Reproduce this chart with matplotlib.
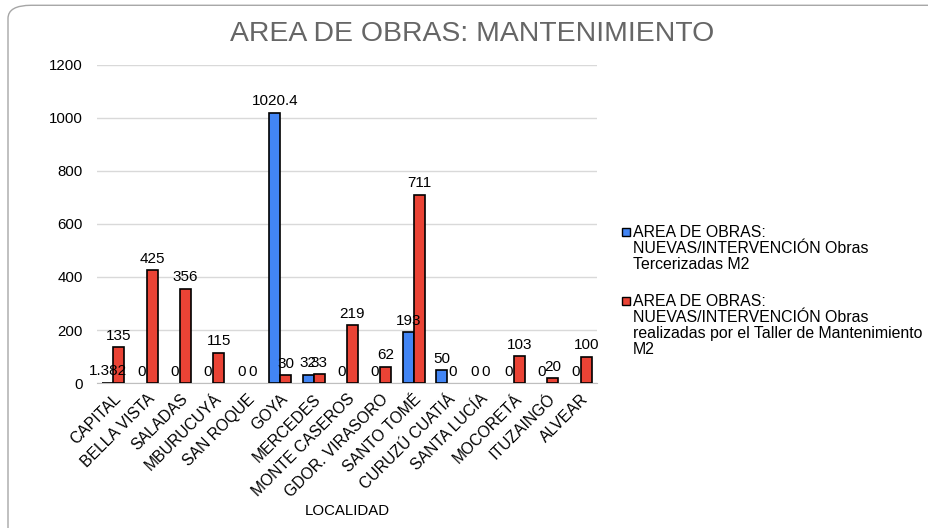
import matplotlib
matplotlib.use("Agg")
import matplotlib.pyplot as plt
import numpy as np
from matplotlib.patches import FancyBboxPatch, Rectangle

plt.rcParams['font.family'] = ['Liberation Sans', 'DejaVu Sans']

categories = ["CAPITAL", "BELLA VISTA", "SALADAS", "MBURUCUYÁ", "SAN ROQUE", "GOYA",
              "MERCEDES", "MONTE CASEROS", "GDOR. VIRASORO", "SANTO TOMÉ",
              "CURUZÚ CUATIÁ", "SANTA LUCÍA", "MOCORETÁ", "ITUZAINGÓ", "ALVEAR"]
tercerizadas = [1.382, 0, 0, 0, 0, 1020.4, 32, 0, 0, 193, 50, 0, 0, 0, 0]
taller = [135, 425, 356, 115, 0, 30, 33, 219, 62, 711, 0, 0, 103, 20, 100]
label_blue = ("AREA DE OBRAS:\nNUEVAS/INTERVENCIÓN Obras\nTercerizadas M2")
label_red = ("AREA DE OBRAS:\nNUEVAS/INTERVENCIÓN Obras\nrealizadas por el Taller de Mantenimiento\nM2")
yticks = [0, 200, 400, 600, 800, 1000, 1200]

blue = "#4285F4"
red = "#EA4335"

fig = plt.figure(figsize=(9.29, 5.28), dpi=100)
ax = fig.add_axes([0.104, 0.2746, 0.539, 0.6024])

x = np.arange(len(categories))
w = 0.33
lw1 = [1.2 if v > 0 else 0 for v in tercerizadas]
lw2 = [1.2 if v > 0 else 0 for v in taller]
b1 = ax.bar(x - w/2, tercerizadas, w, color=blue, edgecolor="black", linewidth=lw1, zorder=3)
b2 = ax.bar(x + w/2, taller, w, color=red, edgecolor="black", linewidth=lw2, zorder=3)

def fmt(v):
    if float(v).is_integer():
        return str(int(v))
    return str(v)

for bars, vals in ((b1, tercerizadas), (b2, taller)):
    ax.bar_label(bars, labels=[fmt(v) for v in vals], padding=3, fontsize=11, color="#000000")

ax.set_xlim(-0.5, len(categories) - 0.5)
ax.set_ylim(0, 1200)
ax.set_yticks(yticks)
ax.set_yticklabels([str(t) for t in yticks], fontsize=10.8)
ax.set_xticks(x)
ax.set_xticklabels(categories, rotation=45, ha="right", rotation_mode="anchor", fontsize=11.3)
ax.tick_params(axis="x", length=0, pad=6)
ax.tick_params(axis="y", length=0, pad=10)
ax.grid(axis="y", color="#d9d9d9", linewidth=1, zorder=0)
for s in ("top", "right", "left"):
    ax.spines[s].set_visible(False)
ax.spines["bottom"].set_color("#bfbfbf")
ax.set_xlabel("LOCALIDAD", fontsize=10.8, labelpad=3)

fig.text(0.508, 0.935, "AREA DE OBRAS: MANTENIMIENTO", ha="center", va="center",
         fontsize=20.4, color="#666666")

# legend drawn manually
W, H = 929, 528
def legend_entry(ytop, color, text):
    fig.patches.append(Rectangle((622 / W, 1 - (ytop + 4) / H), 8 / W, 8 / H,
                                 transform=fig.transFigure, facecolor=color,
                                 edgecolor="black", linewidth=1))
    fig.text(633 / W, 1 - (ytop - 7) / H, text, ha="left", va="top", fontsize=11.4,
             linespacing=1.07, color="#000000")

legend_entry(232, blue, label_blue)
legend_entry(301, red, label_red)

# slide frame
frame = FancyBboxPatch((8 / W, -0.2), (W + 40) / W, 1.19, transform=fig.transFigure,
                       boxstyle="round,pad=0,rounding_size=0.025",
                       facecolor="none", edgecolor="#a6a6a6", linewidth=1)
fig.patches.append(frame)

fig.savefig("out.png", dpi=100)
